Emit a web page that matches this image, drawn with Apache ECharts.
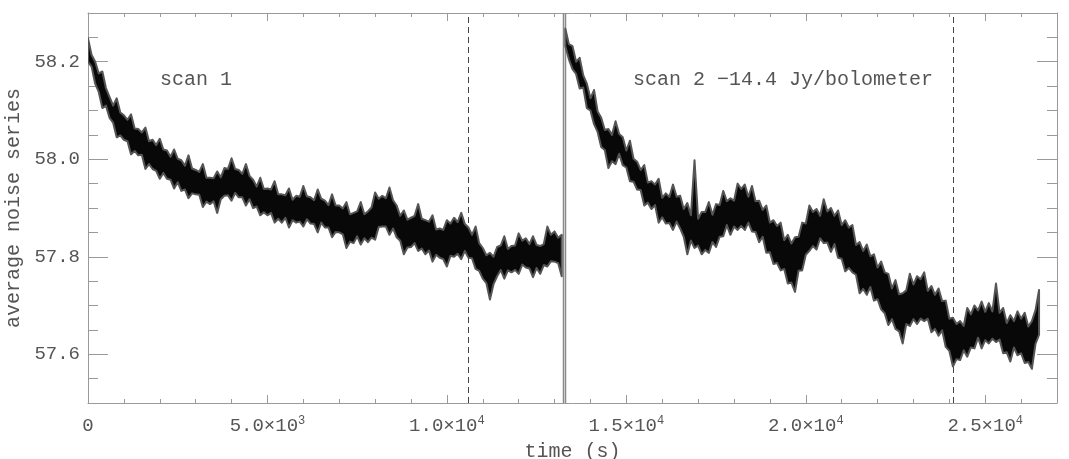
<!DOCTYPE html>
<html><head><meta charset="utf-8">
<script src="https://cdn.jsdelivr.net/npm/echarts@6/dist/echarts.min.js"></script>
<style>html,body{margin:0;padding:0;background:#fff}#c{width:1069px;height:459px}</style>
</head><body><div id="c"></div>
<script>
// ---- data: upper / lower edge of the noisy trace, every 100 s ----
const scan1T = [0,100,200,300,400,500,600,700,800,900,1000,1100,1200,1300,1400,1500,1600,1700,1800,1900,2000,2100,2200,2300,2400,2500,2600,2700,2800,2900,3000,3100,3200,3300,3400,3500,3600,3700,3800,3900,4000,4100,4200,4300,4400,4500,4600,4700,4800,4900,5000,5100,5200,5300,5400,5500,5600,5700,5800,5900,6000,6100,6200,6300,6400,6500,6600,6700,6800,6900,7000,7100,7200,7300,7400,7500,7600,7700,7800,7900,8000,8100,8200,8300,8400,8500,8600,8700,8800,8900,9000,9100,9200,9300,9400,9500,9600,9700,9800,9900,10000,10100,10200,10300,10400,10500,10600,10700,10800,10900,11000,11100,11200,11300,11400,11500,11600,11700,11800,11900,12000,12100,12200,12300,12400,12500,12600,12700,12800,12900,13000,13100,13200];
const scan1Hi = [
58.248,58.214,58.200,58.176,58.180,58.146,58.128,58.110,58.125,58.096,
58.090,58.081,58.092,58.063,58.062,58.055,58.065,58.037,58.040,58.029,
58.042,58.020,58.018,58.005,58.020,58.001,57.998,57.987,58.008,57.981,
57.978,57.974,57.990,57.962,57.962,57.961,57.975,57.963,57.982,57.980,
58.002,57.980,57.978,57.970,57.990,57.966,57.958,57.944,57.962,57.939,
57.940,57.938,57.955,57.928,57.928,57.926,57.940,57.917,57.925,57.923,
57.945,57.924,57.922,57.916,57.938,57.919,57.915,57.906,57.928,57.905,
57.905,57.899,57.912,57.887,57.890,57.893,57.912,57.887,57.893,57.901,
57.932,57.919,57.925,57.920,57.942,57.916,57.905,57.884,57.895,57.876,
57.880,57.884,57.908,57.878,57.875,57.872,57.885,57.856,57.858,57.855,
57.875,57.868,57.880,57.871,57.890,57.867,57.860,57.845,57.862,57.828,
57.818,57.803,57.808,57.800,57.820,57.823,57.842,57.816,57.822,57.823,
57.848,57.833,57.838,57.826,57.842,57.824,57.822,57.826,57.862,57.845,
57.852,57.839,57.845];
const scan1Lo = [
58.200,58.190,58.155,58.138,58.105,58.110,58.085,58.075,58.045,58.049,
58.040,58.037,58.010,58.017,58.008,58.009,57.980,57.990,57.980,57.976,
57.960,57.972,57.960,57.958,57.940,57.953,57.935,57.938,57.920,57.930,
57.928,57.927,57.902,57.913,57.908,57.914,57.890,57.918,57.925,57.926,
57.915,57.931,57.922,57.922,57.905,57.918,57.900,57.903,57.885,57.891,
57.885,57.890,57.870,57.878,57.870,57.880,57.860,57.875,57.870,57.872,
57.862,57.877,57.868,57.867,57.850,57.870,57.860,57.860,57.840,57.851,
57.850,57.846,57.818,57.831,57.828,57.842,57.825,57.838,57.830,57.839,
57.835,57.861,57.862,57.862,57.845,57.858,57.840,57.833,57.805,57.819,
57.820,57.828,57.812,57.817,57.805,57.813,57.790,57.804,57.798,57.795,
57.780,57.802,57.800,57.806,57.795,57.812,57.798,57.797,57.775,57.771,
57.755,57.746,57.712,57.744,57.760,57.773,57.755,57.772,57.768,57.773,
57.765,57.784,57.778,57.776,57.758,57.777,57.765,57.783,57.780,57.791,
57.790,57.787,57.760];
const scan2T = [13300,13400,13500,13600,13700,13800,13900,14000,14100,14200,14300,14400,14500,14600,14700,14800,14900,15000,15100,15200,15300,15400,15500,15600,15700,15800,15900,16000,16100,16200,16300,16400,16500,16600,16700,16800,16900,17000,17100,17200,17300,17400,17500,17600,17700,17800,17900,18000,18100,18200,18300,18400,18500,18600,18700,18800,18900,19000,19100,19200,19300,19400,19500,19600,19700,19800,19900,20000,20100,20200,20300,20400,20500,20600,20700,20800,20900,21000,21100,21200,21300,21400,21500,21600,21700,21800,21900,22000,22100,22200,22300,22400,22500,22600,22700,22800,22900,23000,23100,23200,23300,23400,23500,23600,23700,23800,23900,24000,24100,24200,24300,24400,24500,24600,24700,24800,24900,25000,25100,25200,25300,25400,25500,25600,25700,25800,25900,26000,26100,26200,26300,26400,26500];
const scan2Hi = [
58.268,58.236,58.232,58.200,58.208,58.172,58.155,58.125,58.142,58.098,
58.085,58.060,58.062,58.050,58.078,58.052,58.045,58.018,58.038,58.001,
57.995,57.978,57.988,57.952,57.955,57.948,57.960,57.921,57.930,57.923,
57.948,57.923,57.925,57.898,57.910,57.885,57.998,57.878,57.892,57.892,
57.912,57.886,57.908,57.906,57.935,57.914,57.920,57.915,57.950,57.939,
57.948,57.923,57.945,57.914,57.915,57.896,57.905,57.870,57.875,57.863,
57.870,57.834,57.845,57.827,57.840,57.841,57.870,57.868,57.905,57.892,
57.898,57.884,57.918,57.893,57.900,57.884,57.895,57.865,57.875,57.860,
57.865,57.824,57.830,57.812,57.825,57.801,57.805,57.778,57.790,57.768,
57.765,57.735,57.752,57.723,57.725,57.731,57.765,57.743,57.760,57.754,
57.768,57.730,57.740,57.722,57.735,57.709,57.710,57.673,57.675,57.662,
57.668,57.658,57.695,57.682,57.700,57.690,57.708,57.687,57.705,57.688,
57.745,57.685,57.695,57.664,57.680,57.668,57.688,57.673,57.685,57.657,
57.668,57.690,57.732];
const scan2Lo = [
58.232,58.205,58.185,58.175,58.145,58.147,58.105,58.100,58.072,58.056,
58.025,58.019,57.982,57.996,57.990,58.011,57.988,57.983,57.955,57.954,
57.938,57.937,57.905,57.911,57.898,57.906,57.870,57.881,57.868,57.869,
57.855,57.872,57.858,57.841,57.805,57.833,57.818,57.823,57.805,57.814,
57.808,57.830,57.820,57.841,57.842,57.865,57.845,57.862,57.855,57.863,
57.855,57.870,57.852,57.851,57.830,57.841,57.808,57.809,57.785,57.787,
57.772,57.775,57.745,57.747,57.728,57.772,57.772,57.804,57.812,57.822,
57.815,57.838,57.828,57.829,57.810,57.826,57.798,57.796,57.770,57.777,
57.768,57.763,57.725,57.734,57.722,57.738,57.710,57.713,57.692,57.684,
57.660,57.672,57.652,57.647,57.622,57.662,57.658,57.672,57.662,57.673,
57.668,57.673,57.645,57.652,57.638,57.649,57.615,57.607,57.575,57.590,
57.588,57.608,57.595,57.614,57.612,57.634,57.612,57.629,57.622,57.632,
57.625,57.630,57.602,57.604,57.585,57.614,57.598,57.602,57.582,57.584,
57.570,57.621,57.640];
const dashedLines = [10600, 24100];
const gapLines = [13230, 13295];
const xTicks = [0, 5000, 10000, 15000, 20000, 25000];
const xTickLabels = ['0', '5.0×10{s|3}', '1.0×10{s|4}', '1.5×10{s|4}', '2.0×10{s|4}', '2.5×10{s|4}'];
const yTicks = [57.6, 57.8, 58.0, 58.2];
const yTickLabels = ['57.6', '57.8', '58.0', '58.2'];
const annotationTexts = ['scan 1', 'scan 2 \u221214.4 Jy/bolometer'];
const xTitle = 'time (s)';
const yTitle = 'average noise series';

// ---- chart ----
const X_MIN = 0, X_MAX = 27000, Y_MIN = 57.5, Y_MAX = 58.3;
const FONT = 'Liberation Mono';
const AX = '#9a9a9a', TXT = '#555';
const chart = echarts.init(document.getElementById('c'), null, {renderer: 'canvas'});

function xAx(pos, interval, len, opts) {
  return Object.assign({
    type: 'value', position: pos, min: X_MIN, max: X_MAX, interval: interval,
    axisLine: {show: false, onZero: false, lineStyle: {color: AX}},
    axisTick: {show: true, inside: true, length: len, lineStyle: {color: AX}},
    axisLabel: {show: false}, splitLine: {show: false}
  }, opts || {});
}
function yAx(pos, len, opts) {
  return Object.assign({
    type: 'value', position: pos, min: Y_MIN, max: Y_MAX,
    axisLine: {show: false, onZero: false, lineStyle: {color: AX}},
    axisTick: {show: true, inside: true, length: len, lineStyle: {color: AX}},
    axisLabel: {show: false}, splitLine: {show: false}
  }, opts || {});
}

function band(T, Lo, Hi) {
  return {
    type: 'custom', xAxisIndex: 0, yAxisIndex: 0, clip: true, silent: true,
    data: T.map((t, i) => [t, Lo[i], Hi[i]]),
    encode: {x: 0, y: [1, 2]},
    renderItem: function (params, api) {
      if (params.dataIndex !== 0) return null;
      const pts = [];
      for (let i = 0; i < T.length; i++) pts.push(api.coord([T[i], Hi[i]]));
      for (let i = T.length - 1; i >= 0; i--) pts.push(api.coord([T[i], Lo[i]]));
      return {type: 'polygon', shape: {points: pts},
        style: {fill: '#080808', stroke: '#555555', lineWidth: 2, lineJoin: 'round'}};
    }
  };
}
function vlines(vals, style) {
  return {
    type: 'custom', xAxisIndex: 0, yAxisIndex: 0, clip: true, silent: true,
    data: vals.map(v => [v]), encode: {x: 0},
    renderItem: function (params, api) {
      const v = api.value(0);
      const a = api.coord([v, Y_MIN]), b = api.coord([v, Y_MAX]);
      return {type: 'line', shape: {x1: Math.round(a[0]) + 0.5, y1: a[1], x2: Math.round(b[0]) + 0.5, y2: b[1]}, style: style};
    }
  };
}

chart.setOption({
  animation: false,
  backgroundColor: '#fff',
  grid: {left: 88, right: 12, top: 13, bottom: 56, containLabel: false, outerBoundsMode: 'none'},
  xAxis: [
    xAx('bottom', 5000, 8, {
      axisLine: {show: true, onZero: false, lineStyle: {color: AX}},
      axisLabel: {show: true, margin: 12, color: TXT, fontFamily: FONT, fontSize: 19, lineHeight: 22,
        formatter: v => { const k = xTicks.indexOf(v); return k >= 0 ? xTickLabels[k] : ''; },
        rich: {s: {fontFamily: FONT, fontSize: 12, color: TXT, verticalAlign: 'top', lineHeight: 12}}},
      name: xTitle, nameLocation: 'middle', nameGap: 36,
      nameTextStyle: {color: TXT, fontFamily: FONT, fontSize: 20}
    }),
    xAx('bottom', 1000, 4),
    xAx('top', 5000, 8, {axisLine: {show: true, onZero: false, lineStyle: {color: AX}}}),
    xAx('top', 1000, 4)
  ],
  yAxis: [
    yAx('left', 20, {
      axisLine: {show: true, onZero: false, lineStyle: {color: AX}},
      axisTick: {show: true, inside: true, length: 20, customValues: yTicks, lineStyle: {color: AX}},
      axisLabel: {show: true, margin: 8, color: TXT, fontFamily: FONT, fontSize: 19, customValues: yTicks,
        formatter: v => { const k = yTicks.findIndex(t => Math.abs(t - v) < 1e-6); return k >= 0 ? yTickLabels[k] : ''; }},
      name: yTitle, nameLocation: 'middle', nameGap: 64,
      nameTextStyle: {color: TXT, fontFamily: FONT, fontSize: 20}
    }),
    yAx('left', 10, {interval: 0.05}),
    yAx('right', 20, {
      axisLine: {show: true, onZero: false, lineStyle: {color: AX}},
      axisTick: {show: true, inside: true, length: 20, customValues: yTicks, lineStyle: {color: AX}}
    }),
    yAx('right', 10, {interval: 0.05})
  ],
  series: [
    vlines(dashedLines, {stroke: '#444', lineWidth: 1, lineDash: [6, 4]}),
    vlines(gapLines, {stroke: '#8a8a8a', lineWidth: 1.5}),
    band(scan1T, scan1Lo, scan1Hi),
    band(scan2T, scan2Lo, scan2Hi)
  ],
  graphic: [
    {type: 'text', left: 160, top: 70, style: {text: annotationTexts[0], fill: TXT, font: '20px "Liberation Mono"'}},
    {type: 'text', left: 633, top: 70, style: {text: annotationTexts[1], fill: TXT, font: '20px "Liberation Mono"'}}
  ]
});
</script>
</body></html>
